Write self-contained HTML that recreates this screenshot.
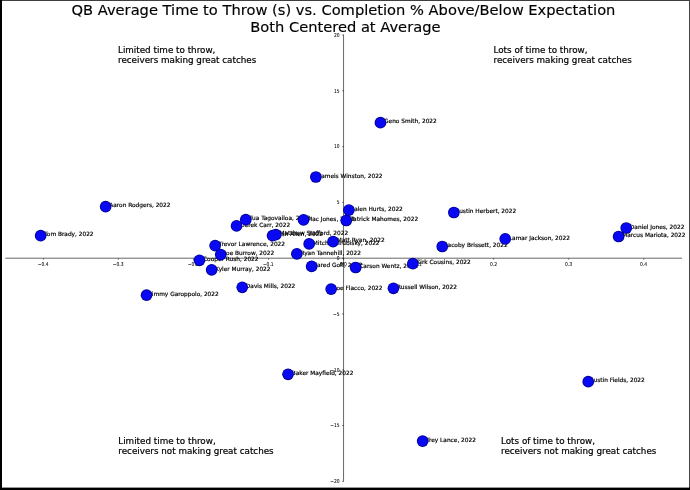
<!DOCTYPE html>
<html lang="en"><head><meta charset="utf-8"><title>QB Average Time to Throw vs CPOE</title>
<style>
html,body{margin:0;padding:0;background:#fff;}
body{width:690px;height:490px;overflow:hidden;position:relative;}
svg{display:block;position:absolute;left:0;top:0;}
text{font-family:"DejaVu Sans","Liberation Sans",sans-serif;fill:#000;}
.t{font-size:14.66px;stroke:#000;stroke-width:0.15px;}
.q{font-size:8.78px;stroke:#000;stroke-width:0.2px;}
.a{font-size:5.84px;stroke:#000;stroke-width:0.18px;}
.k{font-size:5.3px;stroke:#000;stroke-width:0.06px;}
</style></head><body>
<svg width="690" height="490" viewBox="0 0 690 490">
<rect x="0" y="0" width="690" height="490" fill="#ffffff"/>

<text class="t" x="71.5" y="14.8">QB Average Time to Throw (s) vs. Completion % Above/Below Expectation</text>
<text class="t" x="250.2" y="31.8">Both Centered at Average</text>
<text class="q" x="118.0" y="52.85">Limited time to throw,</text>
<text class="q" x="118.0" y="62.9">receivers making great catches</text>
<text class="q" x="493.5" y="52.85">Lots of time to throw,</text>
<text class="q" x="493.5" y="62.9">receivers making great catches</text>
<text class="q" x="118.3" y="443.6">Limited time to throw,</text>
<text class="q" x="118.3" y="453.6">receivers not making great catches</text>
<text class="q" x="501.0" y="443.6">Lots of time to throw,</text>
<text class="q" x="501.0" y="453.6">receivers not making great catches</text>
<g stroke="#000" stroke-width="0.6" fill="none">
<line x1="5.2" y1="258.2" x2="682" y2="258.2"/>
<line x1="343.55" y1="34.6" x2="343.55" y2="481.6"/>
</g>
<g stroke="#000" stroke-width="0.5" fill="none">
<line x1="43.31" y1="258.2" x2="43.31" y2="259.80"/>
<line x1="118.37" y1="258.2" x2="118.37" y2="259.80"/>
<line x1="193.43" y1="258.2" x2="193.43" y2="259.80"/>
<line x1="268.49" y1="258.2" x2="268.49" y2="259.80"/>
<line x1="343.55" y1="258.2" x2="343.55" y2="259.80"/>
<line x1="418.61" y1="258.2" x2="418.61" y2="259.80"/>
<line x1="493.67" y1="258.2" x2="493.67" y2="259.80"/>
<line x1="568.73" y1="258.2" x2="568.73" y2="259.80"/>
<line x1="643.79" y1="258.2" x2="643.79" y2="259.80"/>
<line x1="342.05" y1="481.40" x2="343.55" y2="481.40"/>
<line x1="342.05" y1="425.60" x2="343.55" y2="425.60"/>
<line x1="342.05" y1="369.80" x2="343.55" y2="369.80"/>
<line x1="342.05" y1="314.00" x2="343.55" y2="314.00"/>
<line x1="342.05" y1="258.20" x2="343.55" y2="258.20"/>
<line x1="342.05" y1="202.40" x2="343.55" y2="202.40"/>
<line x1="342.05" y1="146.60" x2="343.55" y2="146.60"/>
<line x1="342.05" y1="90.80" x2="343.55" y2="90.80"/>
<line x1="342.05" y1="35.00" x2="343.55" y2="35.00"/>
</g>
<g class="k">
<text class="k" text-anchor="middle" transform="translate(43.11,266.00) scale(0.84,1)">−0.4</text>
<text class="k" text-anchor="middle" transform="translate(118.17,266.00) scale(0.84,1)">−0.3</text>
<text class="k" text-anchor="middle" transform="translate(193.23,266.00) scale(0.84,1)">−0.2</text>
<text class="k" text-anchor="middle" transform="translate(268.29,266.00) scale(0.84,1)">−0.1</text>
<text class="k" text-anchor="middle" transform="translate(343.35,266.00) scale(0.84,1)">0.0</text>
<text class="k" text-anchor="middle" transform="translate(418.41,266.00) scale(0.84,1)">0.1</text>
<text class="k" text-anchor="middle" transform="translate(493.47,266.00) scale(0.84,1)">0.2</text>
<text class="k" text-anchor="middle" transform="translate(568.53,266.00) scale(0.84,1)">0.3</text>
<text class="k" text-anchor="middle" transform="translate(643.59,266.00) scale(0.84,1)">0.4</text>
<text class="k" text-anchor="end" transform="translate(339.55,483.15) scale(0.84,1)">−20</text>
<text class="k" text-anchor="end" transform="translate(339.55,427.35) scale(0.84,1)">−15</text>
<text class="k" text-anchor="end" transform="translate(339.55,371.55) scale(0.84,1)">−10</text>
<text class="k" text-anchor="end" transform="translate(339.55,315.75) scale(0.84,1)">−5</text>
<text class="k" text-anchor="end" transform="translate(339.55,259.95) scale(0.84,1)">0</text>
<text class="k" text-anchor="end" transform="translate(339.55,204.15) scale(0.84,1)">5</text>
<text class="k" text-anchor="end" transform="translate(339.55,148.35) scale(0.84,1)">10</text>
<text class="k" text-anchor="end" transform="translate(339.55,92.55) scale(0.84,1)">15</text>
<text class="k" text-anchor="end" transform="translate(339.55,36.75) scale(0.84,1)">20</text>
</g>
<g>
<text class="a" x="44.25" y="236.40">Tom Brady, 2022</text>
<text class="a" x="109.25" y="207.40">Aaron Rodgers, 2022</text>
<text class="a" x="150.15" y="295.90">Jimmy Garoppolo, 2022</text>
<text class="a" x="203.05" y="261.00">Cooper Rush, 2022</text>
<text class="a" x="215.25" y="270.50">Kyler Murray, 2022</text>
<text class="a" x="218.75" y="246.30">Trevor Lawrence, 2022</text>
<text class="a" x="224.35" y="255.30">Joe Burrow, 2022</text>
<text class="a" x="240.15" y="226.60">Derek Carr, 2022</text>
<text class="a" x="245.85" y="288.00">Davis Mills, 2022</text>
<text class="a" x="249.35" y="220.40">Tua Tagovailoa, 2022</text>
<text class="a" x="276.15" y="236.30">Josh Allen, 2022</text>
<text class="a" x="279.45" y="235.40">Matthew Stafford, 2022</text>
<text class="a" x="291.65" y="375.00">Baker Mayfield, 2022</text>
<text class="a" x="300.45" y="254.50">Ryan Tannehill, 2022</text>
<text class="a" x="307.15" y="220.60">Mac Jones, 2022</text>
<text class="a" x="312.75" y="244.60">Mitchell Trubisky, 2022</text>
<text class="a" x="315.25" y="267.10">Jared Goff, 2022</text>
<text class="a" x="319.45" y="177.70">Jameis Winston, 2022</text>
<text class="a" x="334.75" y="289.80">Joe Flacco, 2022</text>
<text class="a" x="336.65" y="242.30">Matt Ryan, 2022</text>
<text class="a" x="349.85" y="221.20">Patrick Mahomes, 2022</text>
<text class="a" x="352.45" y="210.80">Jalen Hurts, 2022</text>
<text class="a" x="359.25" y="268.20">Carson Wentz, 2022</text>
<text class="a" x="384.05" y="123.40">Geno Smith, 2022</text>
<text class="a" x="397.05" y="289.00">Russell Wilson, 2022</text>
<text class="a" x="416.45" y="264.40">Kirk Cousins, 2022</text>
<text class="a" x="426.25" y="441.80">Trey Lance, 2022</text>
<text class="a" x="445.85" y="247.20">Jacoby Brissett, 2022</text>
<text class="a" x="457.45" y="213.20">Justin Herbert, 2022</text>
<text class="a" x="508.85" y="239.60">Lamar Jackson, 2022</text>
<text class="a" x="591.85" y="382.40">Justin Fields, 2022</text>
<text class="a" x="622.25" y="237.20">Marcus Mariota, 2022</text>
<text class="a" x="629.85" y="228.70">Daniel Jones, 2022</text>
</g>
<g fill="#00008c">
<circle cx="40.65" cy="235.70" r="5.85"/>
<circle cx="105.65" cy="206.70" r="5.85"/>
<circle cx="146.55" cy="295.20" r="5.85"/>
<circle cx="199.45" cy="260.30" r="5.85"/>
<circle cx="211.65" cy="269.80" r="5.85"/>
<circle cx="215.15" cy="245.60" r="5.85"/>
<circle cx="220.75" cy="254.60" r="5.85"/>
<circle cx="236.55" cy="225.90" r="5.85"/>
<circle cx="242.25" cy="287.30" r="5.85"/>
<circle cx="245.75" cy="219.70" r="5.85"/>
<circle cx="272.55" cy="235.60" r="5.85"/>
<circle cx="275.85" cy="234.70" r="5.85"/>
<circle cx="288.05" cy="374.30" r="5.85"/>
<circle cx="296.85" cy="253.80" r="5.85"/>
<circle cx="303.55" cy="219.90" r="5.85"/>
<circle cx="309.15" cy="243.90" r="5.85"/>
<circle cx="311.65" cy="266.40" r="5.85"/>
<circle cx="315.85" cy="177.00" r="5.85"/>
<circle cx="331.15" cy="289.10" r="5.85"/>
<circle cx="333.05" cy="241.60" r="5.85"/>
<circle cx="346.25" cy="220.50" r="5.85"/>
<circle cx="348.85" cy="210.10" r="5.85"/>
<circle cx="355.65" cy="267.50" r="5.85"/>
<circle cx="380.45" cy="122.70" r="5.85"/>
<circle cx="393.45" cy="288.30" r="5.85"/>
<circle cx="412.85" cy="263.70" r="5.85"/>
<circle cx="422.65" cy="441.10" r="5.85"/>
<circle cx="442.25" cy="246.50" r="5.85"/>
<circle cx="453.85" cy="212.50" r="5.85"/>
<circle cx="505.25" cy="238.90" r="5.85"/>
<circle cx="588.25" cy="381.70" r="5.85"/>
<circle cx="618.65" cy="236.50" r="5.85"/>
<circle cx="626.25" cy="228.00" r="5.85"/>
</g>
<g fill="#0808f2">
<circle cx="40.65" cy="235.70" r="5.05"/>
<circle cx="105.65" cy="206.70" r="5.05"/>
<circle cx="146.55" cy="295.20" r="5.05"/>
<circle cx="199.45" cy="260.30" r="5.05"/>
<circle cx="211.65" cy="269.80" r="5.05"/>
<circle cx="215.15" cy="245.60" r="5.05"/>
<circle cx="220.75" cy="254.60" r="5.05"/>
<circle cx="236.55" cy="225.90" r="5.05"/>
<circle cx="242.25" cy="287.30" r="5.05"/>
<circle cx="245.75" cy="219.70" r="5.05"/>
<circle cx="272.55" cy="235.60" r="5.05"/>
<circle cx="275.85" cy="234.70" r="5.05"/>
<circle cx="288.05" cy="374.30" r="5.05"/>
<circle cx="296.85" cy="253.80" r="5.05"/>
<circle cx="303.55" cy="219.90" r="5.05"/>
<circle cx="309.15" cy="243.90" r="5.05"/>
<circle cx="311.65" cy="266.40" r="5.05"/>
<circle cx="315.85" cy="177.00" r="5.05"/>
<circle cx="331.15" cy="289.10" r="5.05"/>
<circle cx="333.05" cy="241.60" r="5.05"/>
<circle cx="346.25" cy="220.50" r="5.05"/>
<circle cx="348.85" cy="210.10" r="5.05"/>
<circle cx="355.65" cy="267.50" r="5.05"/>
<circle cx="380.45" cy="122.70" r="5.05"/>
<circle cx="393.45" cy="288.30" r="5.05"/>
<circle cx="412.85" cy="263.70" r="5.05"/>
<circle cx="422.65" cy="441.10" r="5.05"/>
<circle cx="442.25" cy="246.50" r="5.05"/>
<circle cx="453.85" cy="212.50" r="5.05"/>
<circle cx="505.25" cy="238.90" r="5.05"/>
<circle cx="588.25" cy="381.70" r="5.05"/>
<circle cx="618.65" cy="236.50" r="5.05"/>
<circle cx="626.25" cy="228.00" r="5.05"/>
</g>
<rect x="0" y="0" width="690" height="1" fill="#3e3e3e"/>
<rect x="689" y="0" width="1" height="490" fill="#444444"/>
<rect x="0" y="0" width="2" height="490" fill="#000000"/>
<rect x="0" y="487.6" width="690" height="2.4" fill="#000000"/>
</svg>
</body></html>
